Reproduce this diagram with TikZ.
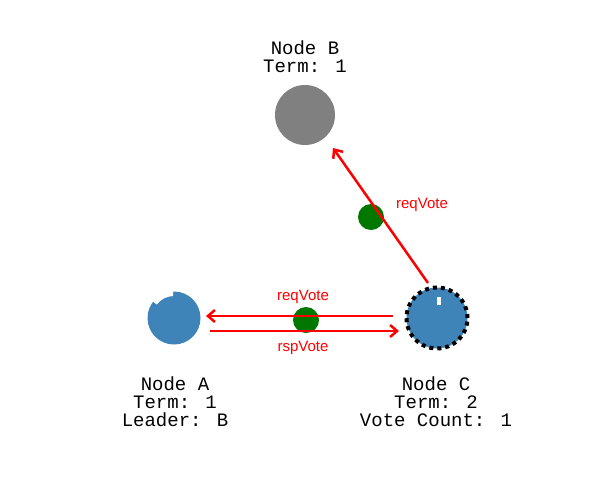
\documentclass[tikz,border=0pt]{standalone}
\usepackage{fontspec}
\setmainfont{Liberation Sans}
\newfontfamily\monofont{Liberation Mono}
\usetikzlibrary{arrows.meta}
\definecolor{nodeblue}{RGB}{62,132,185}
\definecolor{nodegray}{RGB}{128,128,128}
\definecolor{msggreen}{RGB}{0,120,0}
\tikzset{
  server/.style={circle,minimum size=#1,inner sep=0pt},
  msg/.style={circle,fill=msggreen,minimum size=26pt,inner sep=0pt},
  rpc/.style={draw=red,line width=2.5pt,-{Straight Barb[length=7pt,width=12pt]}},
  rpclabel/.style={text=red,font=\fontsize{15}{16}\selectfont},
  info/.style={align=center,font=\monofont\fontsize{19}{18}\selectfont}
}
\begin{document}
\begin{tikzpicture}[x=1pt,y=-1pt]
  \useasboundingbox (0,0) rectangle (612,477);
  % servers
  \node[server=60pt,fill=nodegray] (nodeB) at (305,115){};
  \node[server=53pt,fill=nodeblue] (nodeA) at (174,318){};
  \fill[white] (174,318) ++(268:22) arc(268:218:22) -- ++(218:8) arc(218:268:30) -- cycle;
  \node[server=61pt,fill=nodeblue,draw=black,line width=4pt,dash pattern=on 4pt off 4pt] (nodeC) at (437,318){};
  \fill[white] (437,297) rectangle (441,305);
  % server state
  \node[info] (infoB) at (305,57){Node B\\Term: 1};
  \node[info] (infoA) at (175,402){Node A\\Term: 1\\Leader: B};
  \node[info] (infoC) at (436,402){Node C\\Term: 2\\Vote Count: 1};
  % messages in flight
  \node[msg] (msgCA) at (306,320){};
  \node[msg] (msgCB) at (371,217){};
  \coordinate (cToA) at (393,316);
  \coordinate (aIn) at (206,316);
  \coordinate (aOut) at (210,331);
  \coordinate (cIn) at (399,331);
  \coordinate (cToB) at (428,283);
  \coordinate (bIn) at (333,148);
  \draw[rpc] (cToA)--(aIn);
  \draw[rpc] (aOut)--(cIn);
  \draw[rpc] (cToB)--(bIn);
  \node[rpclabel] (lblCA) at (303,297){reqVote};
  \node[rpclabel] (lblAC) at (303,348){rspVote};
  \node[rpclabel] (lblCB) at (422,205){reqVote};
\end{tikzpicture}
\end{document}
